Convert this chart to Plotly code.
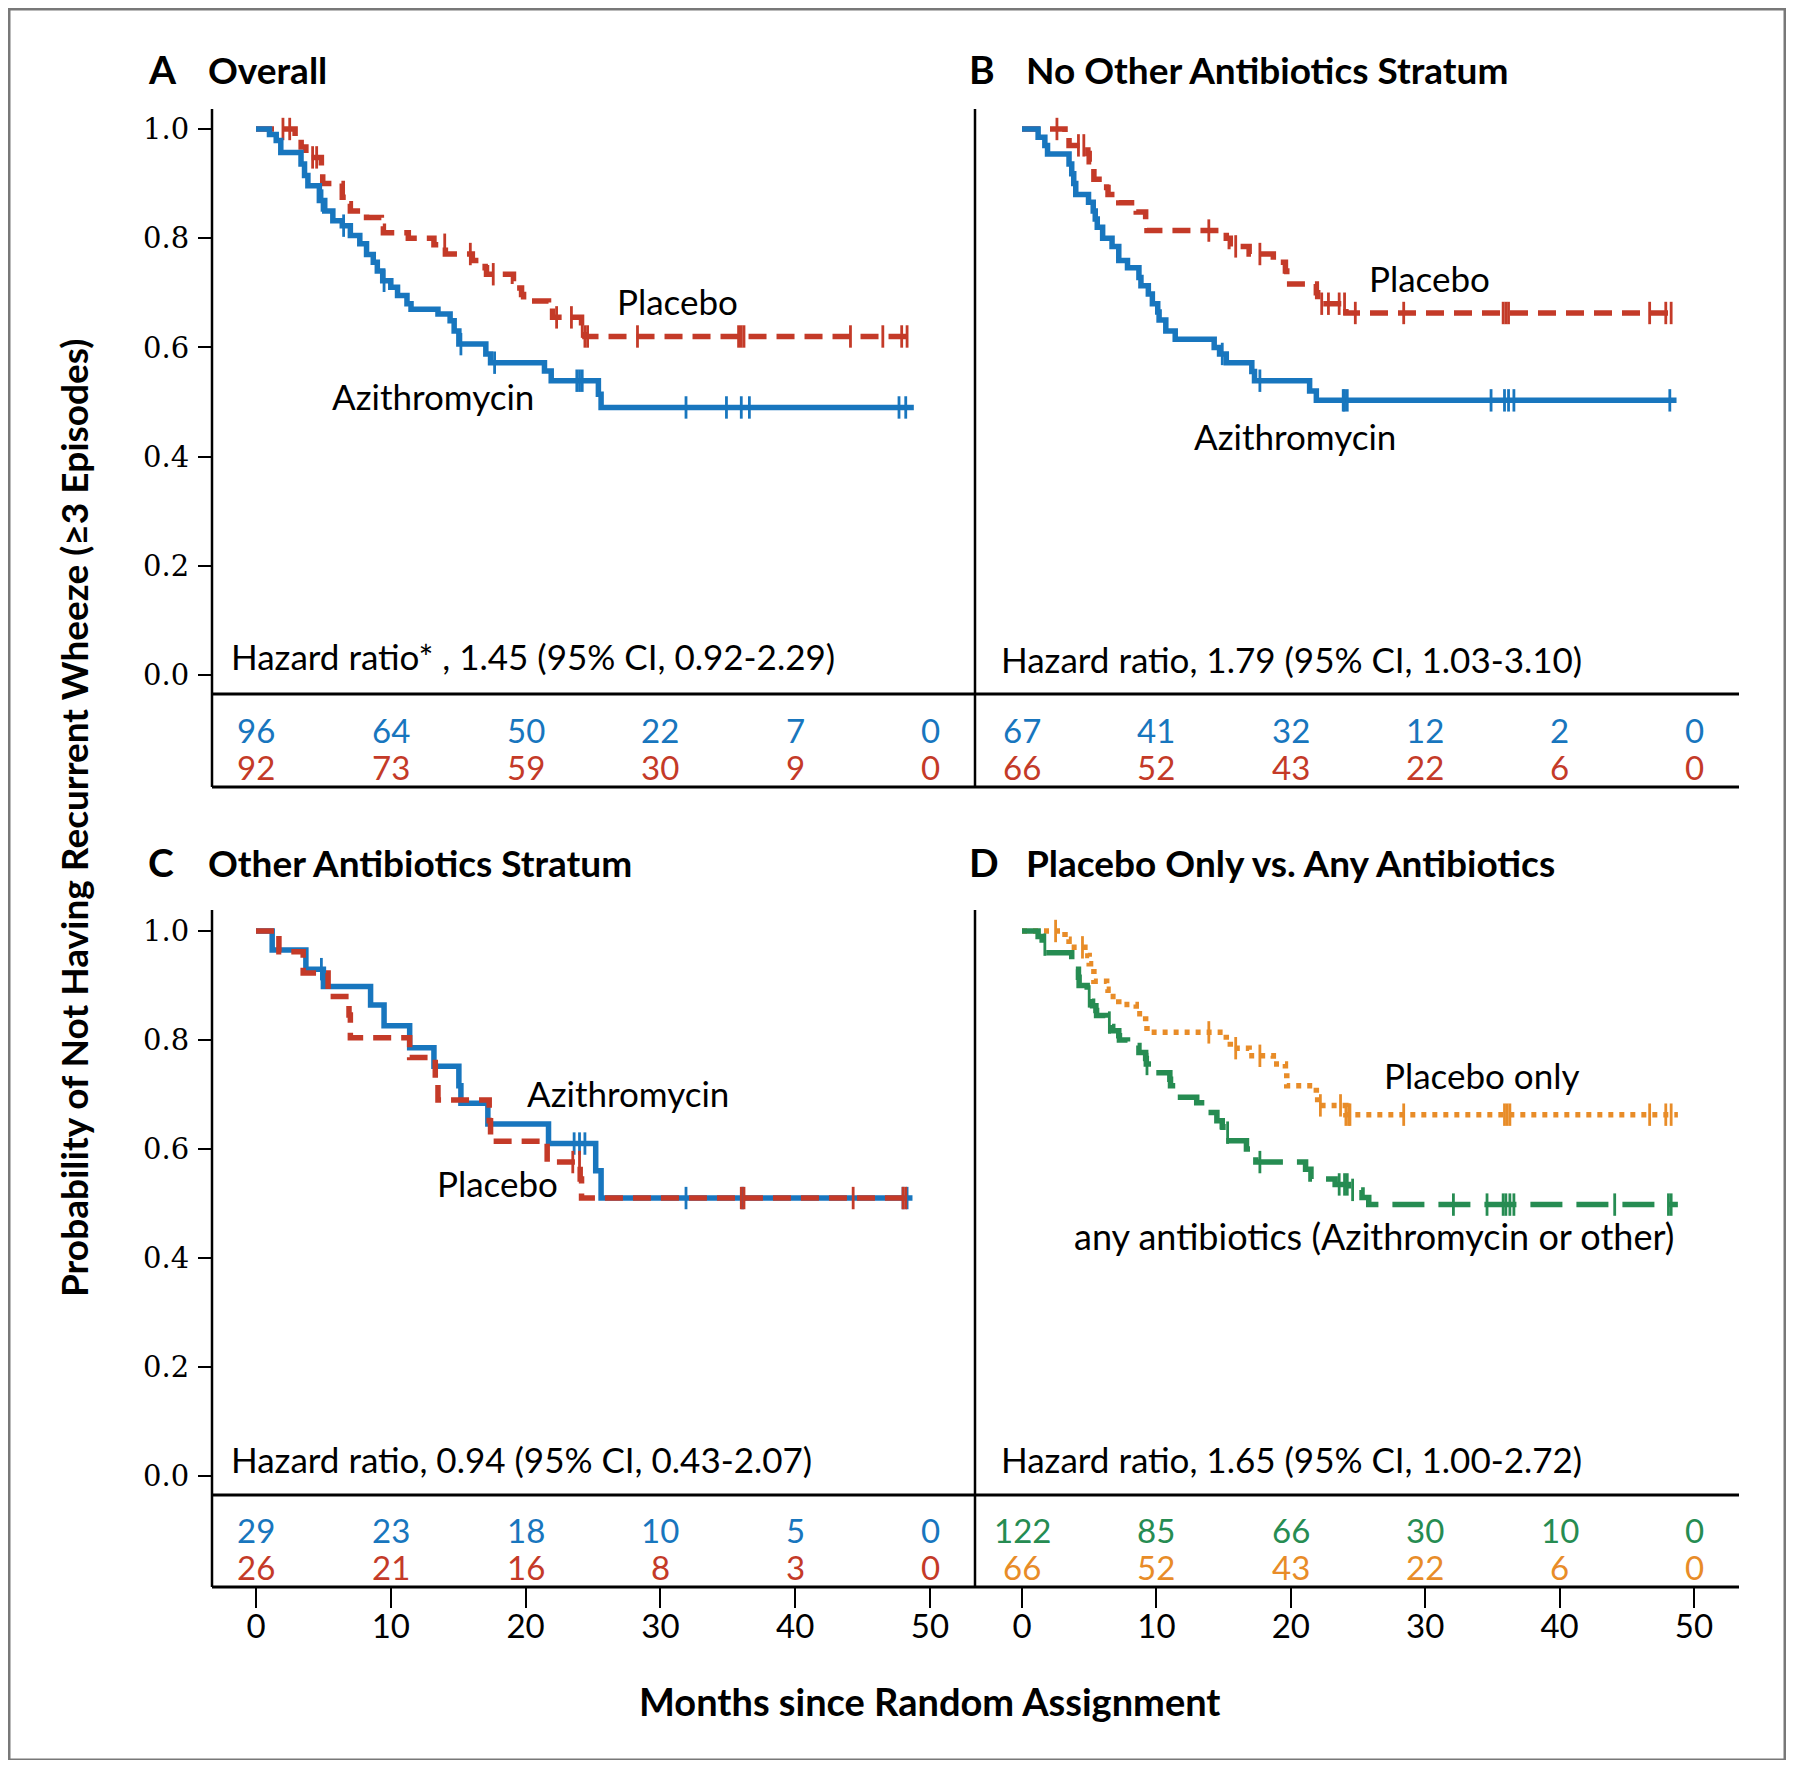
import plotly.graph_objects as go

# ---------------- data ----------------
months_ticks = [0, 10, 20, 30, 40, 50]

# Panel A: Overall
a_azi_t = [1.0, 1.5, 1.84, 3.34, 3.6, 3.85, 4.7, 5.1, 5.7, 6.4, 7.0, 7.7, 8.2, 8.7, 9.0, 9.4, 10.0, 10.5,
           11.2, 11.5, 13.5, 14.4, 14.7, 15.05, 17.05, 17.4, 21.4, 21.9, 25.4, 25.6]
a_azi_s = [0.99, 0.979, 0.957, 0.936, 0.915, 0.896, 0.869, 0.85, 0.832, 0.823, 0.805, 0.79, 0.77, 0.756, 0.74,
           0.722, 0.71, 0.695, 0.68, 0.67, 0.661, 0.649, 0.63, 0.606, 0.588, 0.572, 0.557, 0.539, 0.514, 0.49]
a_azi_end = 48.8
a_azi_cens = [4.9, 6.5, 9.5, 15.2, 17.7, 23.8, 24.0, 24.2, 31.9, 34.9, 36.0, 36.6, 47.7, 48.2]

a_plc_t = [2.9, 3.35, 3.7, 4.85, 4.95, 6.4, 6.7, 7.0, 8.2, 9.3, 9.45, 11.3, 13.2, 14.05, 16.05, 17.0, 17.1,
           19.1, 19.3, 19.7, 19.85, 21.7, 22.0, 24.15, 24.4]
a_plc_s = [0.982, 0.967, 0.948, 0.925, 0.90, 0.875, 0.863, 0.85, 0.838, 0.822, 0.81, 0.80, 0.788, 0.771, 0.759,
           0.746, 0.734, 0.721, 0.709, 0.697, 0.685, 0.673, 0.655, 0.638, 0.62]
a_plc_end = 48.8
a_plc_cens = [2.0, 2.5, 4.2, 4.5, 14.0, 15.9, 17.6, 22.3, 23.4, 24.2, 24.4, 24.6, 28.3, 35.8, 36.0, 36.2,
              44.1, 46.5, 47.9, 48.3]

a_risk_azi = [96, 64, 50, 22, 7, 0]
a_risk_plc = [92, 73, 59, 30, 9, 0]

# Panel B: No Other Antibiotics Stratum
b_azi_t = [1.2, 1.7, 1.9, 3.5, 3.7, 3.85, 4.0, 4.95, 5.3, 5.45, 5.6, 6.0, 6.7, 7.2, 7.85, 8.7, 8.85, 9.4, 9.7,
           10.1, 10.2, 10.7, 11.4, 14.3, 14.7, 15.2, 17.1, 17.3, 21.4, 21.9]
b_azi_s = [0.985, 0.97, 0.954, 0.936, 0.918, 0.90, 0.88, 0.866, 0.85, 0.835, 0.82, 0.80, 0.785, 0.759, 0.746,
           0.728, 0.713, 0.698, 0.68, 0.665, 0.65, 0.63, 0.615, 0.60, 0.588, 0.572, 0.556, 0.539, 0.52, 0.503]
b_azi_end = 48.7
b_azi_cens = [14.9, 17.7, 23.9, 24.0, 24.2, 34.9, 35.9, 36.2, 36.6, 48.2]

b_plc_t = [3.2, 3.5, 4.9, 5.0, 5.35, 6.3, 6.4, 7.2, 8.5, 9.2, 9.3, 15.2, 15.5, 16.9, 18.7, 19.6, 19.7, 21.9,
           22.0, 24.1]
b_plc_s = [0.985, 0.97, 0.955, 0.94, 0.908, 0.893, 0.88, 0.865, 0.848, 0.83, 0.814, 0.80, 0.785, 0.771, 0.756,
           0.74, 0.716, 0.70, 0.68, 0.663]
b_plc_end = 48.8
b_plc_cens = [2.6, 4.2, 4.6, 13.9, 15.9, 17.7, 22.3, 22.8, 23.6, 24.0, 24.8, 28.4, 35.8, 36.0, 36.2, 46.7,
              47.9, 48.3]

b_risk_azi = [67, 41, 32, 12, 2, 0]
b_risk_plc = [66, 52, 43, 22, 6, 0]

# Panel C: Other Antibiotics Stratum
c_azi_t = [1.2, 3.7, 5.0, 8.5, 9.5, 11.4, 13.2, 15.05, 15.2, 17.2, 21.7, 25.2, 25.6]
c_azi_s = [0.965, 0.93, 0.898, 0.864, 0.826, 0.786, 0.752, 0.716, 0.684, 0.646, 0.61, 0.56, 0.51]
c_azi_end = 48.7
c_azi_cens = [4.85, 23.6, 24.0, 24.4, 31.9, 36.1, 48.0, 48.3]

c_plc_t = [1.7, 3.5, 5.35, 6.9, 7.0, 11.4, 13.3, 13.5, 17.3, 17.4, 21.6, 24.05, 24.15]
c_plc_s = [0.962, 0.923, 0.88, 0.846, 0.804, 0.768, 0.73, 0.69, 0.652, 0.614, 0.576, 0.545, 0.51]
c_plc_end = 48.7
c_plc_cens = [23.5, 24.0, 36.0, 36.2, 44.3, 48.0, 48.2]

c_risk_azi = [29, 23, 18, 10, 5, 0]
c_risk_plc = [26, 21, 16, 8, 3, 0]

# Panel D: Placebo Only vs. Any Antibiotics
d_abx_t = [1.2, 1.5, 1.8, 3.7, 3.75, 4.2, 4.25, 4.85, 4.9, 5.2, 5.25, 5.5, 5.55, 6.2, 6.25, 6.7, 6.75, 7.2,
           7.25, 7.85, 8.7, 9.2, 9.25, 9.7, 9.75, 11.0, 11.05, 11.5, 11.55, 13.0, 13.7, 13.75, 14.5, 14.9,
           14.95, 15.4, 16.7, 17.3, 17.4, 21.1, 21.5, 23.3, 24.3, 25.3, 25.8]
d_abx_s = [0.99, 0.975, 0.96, 0.945, 0.93, 0.915, 0.90, 0.89, 0.88, 0.871, 0.863, 0.854, 0.845, 0.838, 0.832,
           0.825, 0.817, 0.808, 0.80, 0.79, 0.777, 0.766, 0.756, 0.748, 0.74, 0.728, 0.716, 0.705, 0.695,
           0.685, 0.676, 0.667, 0.652, 0.641, 0.63, 0.615, 0.60, 0.588, 0.576, 0.563, 0.545, 0.535, 0.525,
           0.511, 0.498]
d_abx_end = 48.8
d_abx_cens = [1.7, 5.0, 6.5, 9.3, 15.3, 17.7, 23.6, 24.0, 24.2, 24.6, 32.1, 34.6, 35.8, 36.0, 36.3, 36.6,
              44.1, 48.1, 48.3]

d_plc_t = b_plc_t
d_plc_s = b_plc_s
d_plc_end = b_plc_end
d_plc_cens = [2.5, 4.5, 13.9, 15.9, 17.7, 22.2, 23.7, 24.1, 24.3, 24.4, 28.4, 35.9, 36.1, 36.3, 46.7, 47.9, 48.3]

d_risk_abx = [122, 85, 66, 30, 10, 0]
d_risk_plc = [66, 52, 43, 22, 6, 0]

hazard_text = ["Hazard ratio* , 1.45 (95% CI, 0.92-2.29)",
               "Hazard ratio, 1.79 (95% CI, 1.03-3.10)",
               "Hazard ratio, 0.94 (95% CI, 0.43-2.07)",
               "Hazard ratio, 1.65 (95% CI, 1.00-2.72)"]
panel_letters = ["A", "B", "C", "D"]
panel_titles = ["Overall", "No Other Antibiotics Stratum", "Other Antibiotics Stratum",
                "Placebo Only vs. Any Antibiotics"]

# ---------------- styling ----------------
W, H = 1794, 1768
OFF = 8  # default body margin of the html page
FW, FH = W - 2 * OFF, H - 2 * OFF
BLUE = "rgb(24,118,190)"
RED = "rgb(196,58,40)"
ORANGE = "rgb(232,140,40)"
GREEN = "rgb(38,140,82)"
SANS = "Lato, 'Open Sans', sans-serif"
SERIF = "'DejaVu Serif', serif"


def pxx(v):
    return (v - OFF) / FW


def pxy(v):
    return 1 - (v - OFF) / FH


def step_at(times, surv, t):
    val = 1.0
    for ti, si in zip(times, surv):
        if ti <= t:
            val = si
    return val


fig = go.Figure()


def add_curve(ax, times, surv, end, cens, color, dash, width=5.5):
    xs = [0] + list(times) + [end]
    ys = [1.0] + list(surv) + [surv[-1]]
    xa, ya = ("x", "y") if ax == 1 else (f"x{ax}", f"y{ax}")
    fig.add_trace(go.Scatter(x=xs, y=ys, mode="lines", line=dict(color=color, width=width, dash=dash, shape="hv"),
                             xaxis=xa, yaxis=ya, showlegend=False, hoverinfo="skip"))
    cy = [step_at(times, surv, c) for c in cens]
    fig.add_trace(go.Scatter(x=cens, y=cy, mode="markers",
                             marker=dict(symbol="line-ns", size=16, line=dict(color=color, width=2.8)),
                             xaxis=xa, yaxis=ya, showlegend=False, hoverinfo="skip"))


RED_DASH = "18px,10px"
GREEN_DASH = "32px,14px"
ORANGE_DOT = "5px,6px"

add_curve(1, a_plc_t, a_plc_s, a_plc_end, a_plc_cens, RED, RED_DASH)
add_curve(1, a_azi_t, a_azi_s, a_azi_end, a_azi_cens, BLUE, "solid")
add_curve(2, b_plc_t, b_plc_s, b_plc_end, b_plc_cens, RED, RED_DASH)
add_curve(2, b_azi_t, b_azi_s, b_azi_end, b_azi_cens, BLUE, "solid")
add_curve(3, c_azi_t, c_azi_s, c_azi_end, c_azi_cens, BLUE, "solid")
add_curve(3, c_plc_t, c_plc_s, c_plc_end, c_plc_cens, RED, RED_DASH)
add_curve(4, d_plc_t, d_plc_s, d_plc_end, d_plc_cens, ORANGE, ORANGE_DOT)
add_curve(4, d_abx_t, d_abx_s, d_abx_end, d_abx_cens, GREEN, GREEN_DASH)

# ---------------- axes geometry (pixel anchors) ----------------
left_x0, left_x50 = 256, 930
right_x0, right_x50 = 1022, 1694
axis_left, sep_x, right_end = 212, 975, 1739
top_y1, top_y0, top_top, top_sep, top_bot = 129, 675, 109, 694, 787
bot_y1, bot_y0, bot_top, bot_sep, bot_bot = 931, 1476, 910, 1495, 1587


def xrange_for(dom0, dom1, x0p, x50p):
    s = (x50p - x0p) / 50.0
    return [(dom0 - x0p) / s, (dom1 - x0p) / s]


def yrange_for(topp, sepp, y1p, y0p):
    s = (y0p - y1p)
    return [-(sepp - y0p) / s, 1 + (y1p - topp) / s]


layout = dict(width=FW, height=FH, margin=dict(l=0, r=0, t=0, b=0),
              paper_bgcolor="white", plot_bgcolor="rgba(0,0,0,0)", showlegend=False)

ytick_common = dict(tickvals=[0, 0.2, 0.4, 0.6, 0.8, 1.0], ticktext=["0.0", "0.2", "0.4", "0.6", "0.8", "1.0"],
                    ticks="outside", ticklen=13, tickwidth=2, tickcolor="black", showgrid=False, zeroline=False,
                    showline=False, ticklabelstandoff=3,
                    tickfont=dict(family=SERIF, size=29, color="black"))
ynone = dict(showticklabels=False, ticks="", showgrid=False, zeroline=False, showline=False)
xnone = dict(showticklabels=False, ticks="", showgrid=False, zeroline=False, showline=False)
xtick_common = dict(tickvals=months_ticks, ticks="outside", ticklen=20, tickwidth=2, tickcolor="black",
                    showgrid=False, zeroline=False, showline=False, ticklabelstandoff=-10,
                    tickfont=dict(family=SANS, size=33, color="black"))

ld = [pxx(axis_left), pxx(sep_x)]
rd = [pxx(sep_x), pxx(right_end)]
td = [pxy(top_sep), pxy(top_top)]
bd = [pxy(bot_sep), pxy(bot_top)]

layout["xaxis"] = dict(domain=ld, range=xrange_for(axis_left, sep_x, left_x0, left_x50), anchor="y", **xnone)
layout["yaxis"] = dict(domain=td, range=yrange_for(top_top, top_sep, top_y1, top_y0), anchor="x", **ytick_common)
layout["xaxis2"] = dict(domain=rd, range=xrange_for(sep_x, right_end, right_x0, right_x50), anchor="y2", **xnone)
layout["yaxis2"] = dict(domain=td, range=yrange_for(top_top, top_sep, top_y1, top_y0), anchor="x2", **ynone)
layout["xaxis3"] = dict(domain=ld, range=xrange_for(axis_left, sep_x, left_x0, left_x50), anchor="free",
                        position=pxy(bot_bot), **xtick_common)
layout["yaxis3"] = dict(domain=bd, range=yrange_for(bot_top, bot_sep, bot_y1, bot_y0), anchor="x3", **ytick_common)
layout["xaxis4"] = dict(domain=rd, range=xrange_for(sep_x, right_end, right_x0, right_x50), anchor="free",
                        position=pxy(bot_bot), **xtick_common)
layout["yaxis4"] = dict(domain=bd, range=yrange_for(bot_top, bot_sep, bot_y1, bot_y0), anchor="x4", **ynone)
fig.update_layout(**layout)

# ---------------- frame lines ----------------
shapes = []
LINE = dict(color="black", width=2.5)
for (t, b) in [(top_top, top_bot), (bot_top, bot_bot)]:
    for xv in (axis_left, sep_x):
        shapes.append(dict(type="line", xref="paper", yref="paper", x0=pxx(xv), x1=pxx(xv), y0=pxy(t), y1=pxy(b),
                           line=LINE))
for yv in (top_sep, top_bot, bot_sep, bot_bot):
    shapes.append(dict(type="line", xref="paper", yref="paper", x0=pxx(axis_left), x1=pxx(right_end),
                       y0=pxy(yv), y1=pxy(yv), line=dict(color="black", width=3)))
shapes.append(dict(type="rect", xref="paper", yref="paper", x0=pxx(9), x1=pxx(1785), y0=pxy(9), y1=pxy(1760),
                   line=dict(color="rgb(120,120,120)", width=3)))
fig.update_layout(shapes=shapes)

# ---------------- annotations ----------------
ann = []


def text(x, y, s, xref, yref, size, color="black", bold=False, xanchor="center", yanchor="middle", angle=0,
         family=SANS):
    ann.append(dict(x=x, y=y, xref=xref, yref=yref, text=(f"<b>{s}</b>" if bold else s), showarrow=False,
                    xanchor=xanchor, yanchor=yanchor, textangle=angle,
                    font=dict(family=family, size=size, color=color)))


# panel titles
title_pos = [(146, 206, 69), (967, 1024, 69), (146, 206, 862), (967, 1024, 862)]
for (lx, tx, ty), letter, title in zip(title_pos, panel_letters, panel_titles):
    text(pxx(lx), pxy(ty), letter, "paper", "paper", 39, bold=True, xanchor="left")
    text(pxx(tx), pxy(ty), title, "paper", "paper", 37, bold=True, xanchor="left")

# hazard ratios
text(-2.0, 0.035, hazard_text[0], "x", "y", 35, xanchor="left")
text(-1.7, 0.03, hazard_text[1], "x2", "y2", 35, xanchor="left")
text(-2.0, 0.031, hazard_text[2], "x3", "y3", 35, xanchor="left")
text(-1.7, 0.031, hazard_text[3], "x4", "y4", 35, xanchor="left")

# curve labels
LBL = 35
text(31.3, 0.685, "Placebo", "x", "y", LBL)
text(13.1, 0.511, "Azithromycin", "x", "y", LBL)
text(30.3, 0.727, "Placebo", "x2", "y2", LBL)
text(20.3, 0.438, "Azithromycin", "x2", "y2", LBL)
text(27.6, 0.703, "Azithromycin", "x3", "y3", LBL)
text(17.9, 0.538, "Placebo", "x3", "y3", LBL)
text(34.2, 0.736, "Placebo only", "x4", "y4", LBL)
text(26.2, 0.44, "any antibiotics (Azithromycin or other)", "x4", "y4", 36)

# numbers at risk
risk_rows = [("x", a_risk_azi, BLUE, 730), ("x", a_risk_plc, RED, 767),
             ("x2", b_risk_azi, BLUE, 730), ("x2", b_risk_plc, RED, 767),
             ("x3", c_risk_azi, BLUE, 1530), ("x3", c_risk_plc, RED, 1567),
             ("x4", d_risk_abx, GREEN, 1530), ("x4", d_risk_plc, ORANGE, 1567)]
for xref, vals, col, ypx in risk_rows:
    for m, v in zip(months_ticks, vals):
        text(m, pxy(ypx), str(v), xref, "paper", 33, color=col)

# axis titles
text(pxx(74), pxy(818), "Probability of Not Having Recurrent Wheeze (≥3 Episodes)", "paper", "paper", 37,
     bold=True, angle=-90)
text(pxx(930), pxy(1701), "Months since Random Assignment", "paper", "paper", 38, bold=True)

fig.update_layout(annotations=ann)
fig.write_html("out.html")
